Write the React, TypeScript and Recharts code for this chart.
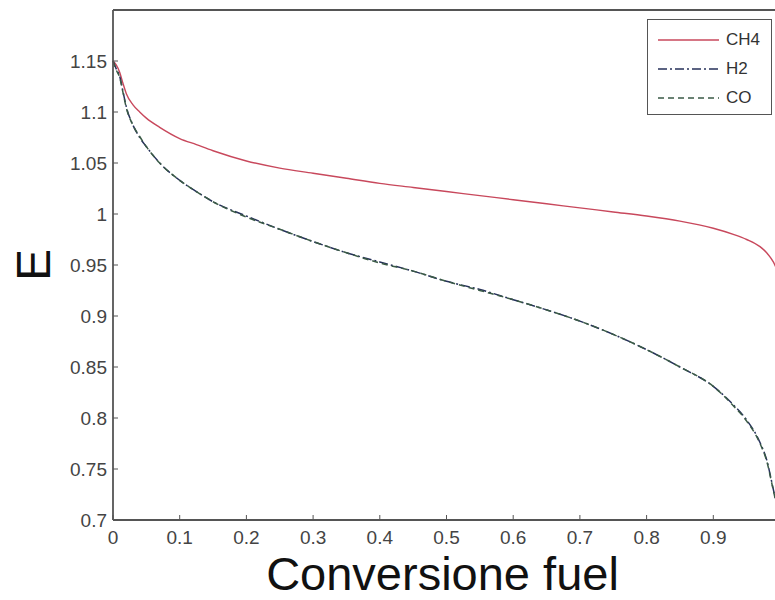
import React from 'react';
import { LineChart, Line, XAxis, YAxis, Legend } from 'recharts';

const xValues = [0, 0.005, 0.01, 0.015, 0.02, 0.03, 0.04, 0.05, 0.07, 0.1, 0.125, 0.15, 0.2, 0.25, 0.3, 0.35, 0.4, 0.45, 0.5, 0.55, 0.6, 0.65, 0.7, 0.75, 0.8, 0.85, 0.9, 0.93, 0.95, 0.97, 0.98, 0.99, 1.0];
const ch4Values = [1.150, 1.146, 1.139, 1.128, 1.118, 1.107, 1.100, 1.094, 1.085, 1.074, 1.068, 1.062, 1.052, 1.045, 1.040, 1.035, 1.030, 1.026, 1.022, 1.018, 1.014, 1.010, 1.006, 1.002, 0.998, 0.993, 0.986, 0.980, 0.975, 0.968, 0.962, 0.953, 0.938];
const h2Values = [1.150, 1.142, 1.135, 1.120, 1.105, 1.087, 1.075, 1.066, 1.050, 1.033, 1.022, 1.012, 0.998, 0.985, 0.973, 0.962, 0.953, 0.944, 0.934, 0.926, 0.916, 0.906, 0.895, 0.882, 0.867, 0.850, 0.831, 0.813, 0.798, 0.776, 0.759, 0.730, 0.700];
const coValues = [1.150, 1.141, 1.134, 1.119, 1.104, 1.087, 1.076, 1.066, 1.050, 1.033, 1.022, 1.012, 0.997, 0.985, 0.973, 0.962, 0.952, 0.944, 0.934, 0.925, 0.916, 0.906, 0.895, 0.882, 0.867, 0.850, 0.831, 0.812, 0.797, 0.775, 0.758, 0.729, 0.700];

const xTicks = [0, 0.1, 0.2, 0.3, 0.4, 0.5, 0.6, 0.7, 0.8, 0.9];
const yTicks = [0.7, 0.75, 0.8, 0.85, 0.9, 0.95, 1, 1.05, 1.1, 1.15];

const seriesNames = ['CH4', 'H2', 'CO'];

const data = xValues.map((x, i) => ({ x, CH4: ch4Values[i], H2: h2Values[i], CO: coValues[i] }));

const styles: Record<string, { color: string; dash?: string; width: number }> = {
  CH4: { color: '#c8485c', width: 1.4 },
  H2: { color: '#26315a', dash: '9 3 2 3', width: 1.5 },
  CO: { color: '#3a5a46', dash: '6 4', width: 1.5 },
};

const FONT = '"Liberation Sans", Arial, sans-serif';
const AXIS = '#555';

const LegendBox = (props: any) => {
  const payload = (props.payload || []) as any[];
  const order = seriesNames.filter((n) => payload.some((p) => p.dataKey === n || p.value === n));
  return (
    <div
      style={{
        boxSizing: 'border-box',
        width: 125,
        height: 96,
        border: `1.5px solid ${AXIS}`,
        background: '#fff',
        paddingTop: 5,
        fontFamily: FONT,
      }}
    >
      {order.map((name) => {
        const s = styles[name];
        return (
          <div key={name} style={{ display: 'flex', alignItems: 'center', height: 29 }}>
            <svg width={76} height={10} style={{ display: 'block' }}>
              <line x1={10} x2={71} y1={5} y2={5} stroke={s.color} strokeWidth={s.width} strokeDasharray={s.dash} />
            </svg>
            <span style={{ fontSize: 17, color: '#333', marginLeft: 2 }}>{name}</span>
          </div>
        );
      })}
    </div>
  );
};

export default function App() {
  return (
    <div style={{ position: 'absolute', left: 0, top: 0, width: 775, height: 600, overflow: 'hidden', background: '#fff' }}>
      <LineChart width={790} height={600} data={data} margin={{ top: 9, right: 9, left: 0, bottom: 0 }}>
        <XAxis
          dataKey="x"
          type="number"
          domain={[0, 1]}
          ticks={xTicks}
          interval={0}
          height={80}
          tickSize={-5}
          tickMargin={16}
          tick={{ fontSize: 19, fill: '#444', fontFamily: FONT }}
          axisLine={{ stroke: AXIS, strokeWidth: 1.8 }}
          tickLine={{ stroke: AXIS }}
          label={(p: any) => {
            const vb = p.viewBox || {};
            const cx = (vb.x ?? 113) + (vb.width ?? 667) / 2 - 4;
            return (
              <text x={cx} y={590} textAnchor="middle" fontSize={47} fontFamily={FONT} fill="#111">
                Conversione fuel
              </text>
            );
          }}
        />
        <XAxis
          xAxisId="top"
          orientation="top"
          type="number"
          domain={[0, 1]}
          ticks={xTicks}
          height={1}
          tickSize={-5}
          tick={false}
          axisLine={{ stroke: AXIS, strokeWidth: 1.8 }}
          tickLine={{ stroke: AXIS }}
        />
        <YAxis
          type="number"
          domain={[0.7, 1.2]}
          ticks={yTicks}
          interval={0}
          width={113}
          tickSize={-5}
          tickMargin={11}
          tick={{ fontSize: 19, fill: '#444', fontFamily: FONT }}
          axisLine={{ stroke: AXIS, strokeWidth: 1.8 }}
          tickLine={{ stroke: AXIS }}
          label={(p: any) => {
            const vb = p.viewBox || {};
            const cy = (vb.y ?? 10) + (vb.height ?? 510) / 2;
            return (
              <text x={50} y={cy} textAnchor="middle" fontSize={48} fontFamily={FONT} fill="#111" transform={`rotate(-90, 50, ${cy})`}>
                E
              </text>
            );
          }}
        />
        <YAxis
          yAxisId="right"
          orientation="right"
          type="number"
          domain={[0.7, 1.2]}
          ticks={yTicks}
          width={1}
          tickSize={-5}
          tick={false}
          axisLine={{ stroke: AXIS, strokeWidth: 1.8 }}
          tickLine={{ stroke: AXIS }}
        />
        {seriesNames.map((name) => (
          <Line
            key={name}
            type="monotone"
            dataKey={name}
            name={name}
            stroke={styles[name].color}
            strokeWidth={styles[name].width}
            strokeDasharray={styles[name].dash}
            dot={false}
            activeDot={false}
            isAnimationActive={false}
          />
        ))}
        <Legend
          layout="vertical"
          align="center"
          verticalAlign="middle"
          content={LegendBox}
          wrapperStyle={{ left: 647, top: 19, width: 125, height: 96 }}
        />
      </LineChart>
    </div>
  );
}
